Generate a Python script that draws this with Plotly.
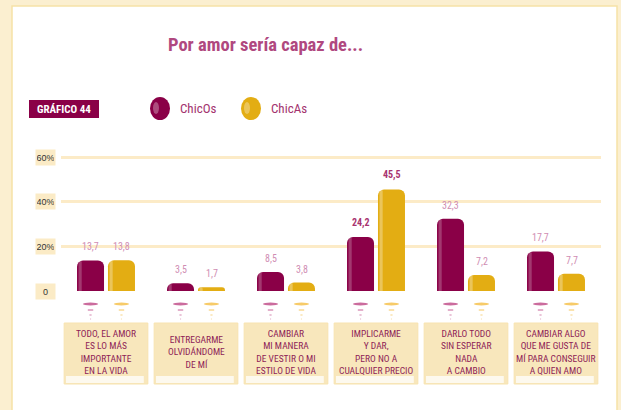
import plotly.graph_objects as go

categories = [
    "TODO, EL AMOR<br>ES LO MÁS<br>IMPORTANTE<br>EN LA VIDA",
    "ENTREGARME<br>OLVIDÁNDOME<br>DE MÍ",
    "CAMBIAR<br>MI MANERA<br>DE VESTIR O MI<br>ESTILO DE VIDA",
    "IMPLICARME<br>Y DAR,<br>PERO NO A<br>CUALQUIER PRECIO",
    "DARLO TODO<br>SIN ESPERAR<br>NADA<br>A CAMBIO",
    "CAMBIAR ALGO<br>QUE ME GUSTA DE<br>MÍ PARA CONSEGUIR<br>A QUIEN AMO",
]
chicos = [13.7, 3.5, 8.5, 24.2, 32.3, 17.7]
chicas = [13.8, 1.7, 3.8, 45.5, 7.2, 7.7]
series_names = ["ChicOs", "ChicAs"]
tick_vals = [0, 20, 40, 60]
tick_text = ["0", "20%", "40%", "60%"]
highlight = 3  # category shown with darker labels

W, H = 621, 410
ML, MR, MT, MB = 61, 20, 140, 119
PW, PH = W - ML - MR, H - MT - MB
YMAX = 60 * PH / 134.0

def px(x):
    return (x - ML) / PW

def py(y):
    return (H - MB - y) / PH

C_O = "#8A0047"
C_A = "#E3AD13"
NARROW = "Liberation Sans Narrow, Arial Narrow, Roboto Condensed, Roboto, sans-serif"

fmt = lambda v: f"{v:.1f}".replace(".", ",")

fig = go.Figure()
fig.add_trace(go.Bar(x=categories, y=chicos, name=series_names[0], marker_color=C_O,
                     width=0.3, offset=-0.322, marker_line_width=0))
fig.add_trace(go.Bar(x=categories, y=chicas, name=series_names[1], marker_color=C_A,
                     width=0.3, offset=0.022, marker_line_width=0))
# subtle gloss strip on the left of each bar
fig.add_trace(go.Bar(x=categories, y=chicos, marker_color="rgba(255,255,255,0.22)",
                     width=0.035, offset=-0.305, marker_line_width=0, hoverinfo="skip"))
fig.add_trace(go.Bar(x=categories, y=chicas, marker_color="rgba(255,255,255,0.3)",
                     width=0.035, offset=0.039, marker_line_width=0, hoverinfo="skip"))

shapes = []
ann = []

# white panel
shapes.append(dict(type="rect", xref="paper", yref="paper", x0=px(12), x1=px(617), y0=py(6), y1=py(412),
                   fillcolor="white", line=dict(color="#F6E2A6", width=1.5), layer="below"))

# title
ann.append(dict(text="<b>Por amor sería capaz de...</b>", xref="paper", yref="paper", x=px(265), y=py(45),
                showarrow=False, font=dict(family=NARROW, size=18.5, color="#B0487F"), xanchor="center", yanchor="middle"))

# GRAFICO label box
shapes.append(dict(type="rect", xref="paper", yref="paper", x0=px(29), x1=px(99), y0=py(100), y1=py(118),
                   fillcolor="#8A0047", line_width=0))
ann.append(dict(text="<b>GRÁFICO 44</b>", xref="paper", yref="paper", x=px(64), y=py(109), showarrow=False,
                font=dict(family=NARROW, size=11, color="white"), xanchor="center", yanchor="middle"))

# legend
for cx, col, name in [(160, C_O, series_names[0]), (251, C_A, series_names[1])]:
    shapes.append(dict(type="circle", xref="paper", yref="paper", x0=px(cx - 10), x1=px(cx + 10),
                       y0=py(97), y1=py(120), fillcolor=col, line_width=0))
    shapes.append(dict(type="circle", xref="paper", yref="paper", x0=px(cx - 7), x1=px(cx - 1),
                       y0=py(102), y1=py(114), fillcolor="rgba(255,255,255,0.3)", line_width=0))
    ann.append(dict(text=name, xref="paper", yref="paper", x=px(cx + 18), y=py(108), showarrow=False,
                    font=dict(family=NARROW, size=13, color="#A3336E"), xanchor="left", yanchor="middle"))

# tick label boxes
for v, t in zip(tick_vals, tick_text):
    ann.append(dict(text=t, xref="paper", yref="y", x=px(45), y=v, showarrow=False,
                    font=dict(family="Arial, Liberation Sans, sans-serif", size=9, color="#333"),
                    bgcolor="#FBEBC6", width=17, height=13, xanchor="center", yanchor="middle"))

# value labels
for i, c in enumerate(categories):
    for vals, sh in [(chicos, -15.5), (chicas, 15.5)]:
        hi = i == highlight
        ann.append(dict(text=(f"<b>{fmt(vals[i])}</b>" if hi else fmt(vals[i])), x=c, y=vals[i], xshift=sh,
                        yshift=6, showarrow=False, yanchor="bottom", xanchor="center",
                        font=dict(family=NARROW, size=10, color="#A8336F" if hi else "#D08DB3")))

# decorative drops and category boxes
for i, c in enumerate(categories):
    for sh, col in [(-0.172, "#C2528C"), (0.172, "#F6C24F")]:
        xc = i + sh
        shapes.append(dict(type="circle", xref="x", yref="paper", x0=xc - 0.085, x1=xc + 0.085,
                           y0=py(302.5), y1=py(305.5), fillcolor=col, line_width=0, opacity=0.85))
        shapes.append(dict(type="line", xref="x", yref="paper", x0=xc - 0.03, x1=xc + 0.03,
                           y0=py(310), y1=py(310), line=dict(color=col, width=1.5), opacity=0.6))
        shapes.append(dict(type="line", xref="x", yref="paper", x0=xc - 0.012, x1=xc + 0.012,
                           y0=py(315), y1=py(315), line=dict(color=col, width=1.5), opacity=0.45))
        shapes.append(dict(type="line", xref="x", yref="paper", x0=xc - 0.006, x1=xc + 0.006,
                           y0=py(319), y1=py(319), line=dict(color=col, width=1.5), opacity=0.3))
    shapes.append(dict(type="rect", xref="x", yref="paper", x0=i - 0.465, x1=i + 0.465,
                       y0=py(384), y1=py(323), fillcolor="#F8E7BC", line=dict(color="#F7E3B0", width=1)))
    shapes.append(dict(type="rect", xref="x", yref="paper", x0=i - 0.445, x1=i + 0.42,
                       y0=py(383), y1=py(376), fillcolor="rgba(255,255,255,0.75)", line_width=0))
    ann.append(dict(text=c, x=c, xref="x", yref="paper", y=py(352), showarrow=False,
                    font=dict(family=NARROW, size=9.5, color="#8E1D57"), xanchor="center", yanchor="middle",
                    align="center"))

fig.update_layout(
    width=W, height=H, margin=dict(l=ML, r=MR, t=MT, b=MB),
    paper_bgcolor="#FBEFD0", plot_bgcolor="rgba(0,0,0,0)",
    barmode="overlay", barcornerradius=6, showlegend=False, separators=",.",
    shapes=shapes, annotations=ann,
    xaxis=dict(range=[-0.5, 5.5], showticklabels=False, showgrid=False, zeroline=False, fixedrange=True),
    yaxis=dict(range=[0, YMAX], tickvals=tick_vals, showticklabels=False, showgrid=True,
               gridcolor="#FCEBC7", gridwidth=3, zeroline=False, fixedrange=True),
)

fig.write_html("out.html", config={"displayModeBar": False},
               post_script="document.body.style.margin='0';document.body.style.overflow='hidden';")
